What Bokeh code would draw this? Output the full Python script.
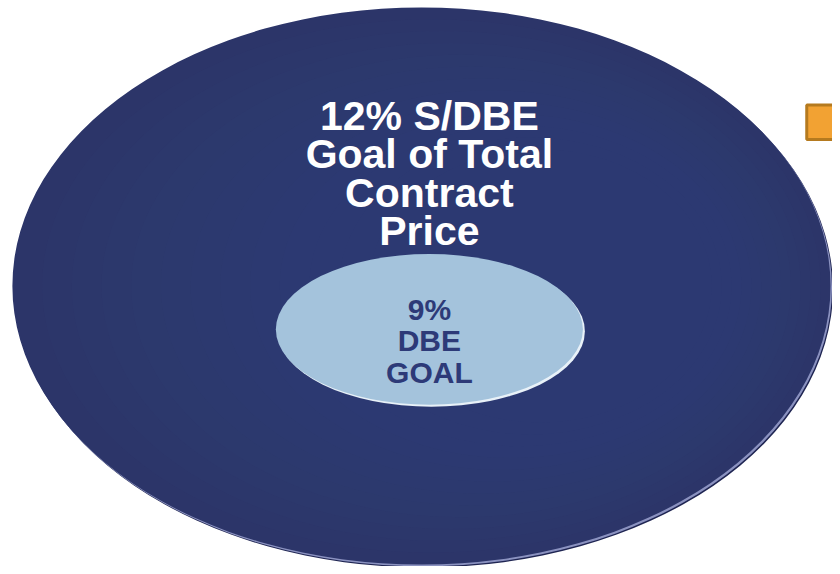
from bokeh.plotting import figure
from bokeh.models import Range1d
from bokeh.core.properties import value
from bokeh.embed import file_html
from bokeh.resources import INLINE

# ---- data ----
goal_names = ["S/DBE goal of total contract price", "DBE goal"]
goal_percent = [12, 9]
outer_lines = ["12% S/DBE", "Goal of Total", "Contract", "Price"]
inner_lines = ["9%", "DBE", "GOAL"]

# ---- layout (reference pixels, y measured from top) ----
W, H = 840, 574
def Y(y):
    return H - y

p = figure(width=832, height=566, output_backend="svg", toolbar_location=None,
           x_range=Range1d(0, W), y_range=Range1d(0, H), min_border=0)
p.axis.visible = False
p.grid.visible = False
p.outline_line_color = None
p.background_fill_color = "white"
p.border_fill_color = "white"

# outer ellipse (12% goal) with bevel rim
ocx, ocy, ow, oh = 425, 289.5, 826, 565
p.ellipse(x=[ocx + 2.5], y=[Y(ocy + 3)], width=ow, height=oh, fill_color="#1f2552", line_color=None)
p.ellipse(x=[ocx + 1.5], y=[Y(ocy + 1.8)], width=ow, height=oh, fill_color="#8b92c0", line_color=None)
p.ellipse(x=[ocx], y=[Y(ocy)], width=ow, height=oh, fill_color="#2c3569", line_color=None)
# subtle smooth lightening toward the right side (kept inside the outer ellipse)
for k in range(1, 13):
    a = ow / 2 - 20 * k
    b = oh / 2 - 12 * k
    p.ellipse(x=[ocx + 10 * k], y=[Y(ocy)], width=2 * a, height=2 * b,
              fill_color="#3e4780", fill_alpha=0.07, line_color=None)

# inner ellipse (9% goal) with bevel rim
icx, icy, iw, ih = 433, 333.5, 310, 153
p.ellipse(x=[icx + 2], y=[Y(icy + 2)], width=iw, height=ih, fill_color="#e8f1f8", line_color=None)
p.ellipse(x=[icx], y=[Y(icy)], width=iw, height=ih, fill_color="#a4c3dc", line_color=None)

# orange square (cut at right edge)
p.quad(left=[814], right=[860], top=[Y(106)], bottom=[Y(141)], fill_color="#f2a233",
       line_color="#b57a1f", line_width=3)

# texts
outer_y = [117, 156, 195, 234]
p.text(x=[433] * len(outer_lines), y=[Y(v) for v in outer_y], text=outer_lines,
       text_font=value("Liberation Sans"), text_font_style="bold", text_font_size="41px",
       text_color="white", text_align="center", text_baseline="alphabetic")

inner_y = [313, 345, 377]
p.text(x=[433] * len(inner_lines), y=[Y(v) for v in inner_y], text=inner_lines,
       text_font=value("Liberation Sans"), text_font_style="bold", text_font_size="30px",
       text_color="#2d3a78", text_align="center", text_baseline="alphabetic")

open("out.html", "w").write(file_html(p, INLINE))
